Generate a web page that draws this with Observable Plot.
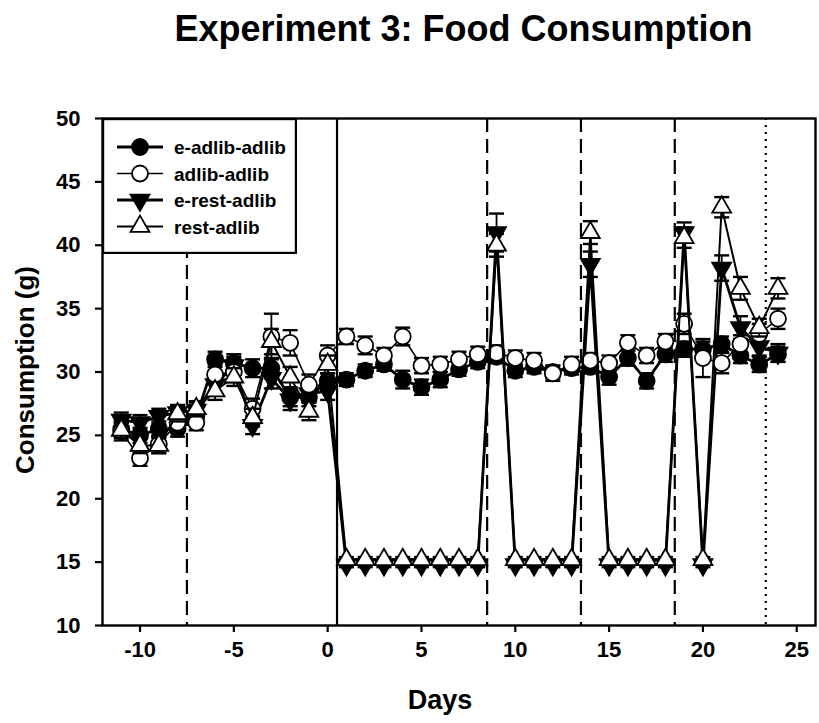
<!DOCTYPE html>
<html><head><meta charset="utf-8">
<script src="https://cdn.jsdelivr.net/npm/d3@7"></script>
<script src="https://cdn.jsdelivr.net/npm/@observablehq/plot@0.6"></script>
<style>
body{margin:0;background:#fff;font-family:"Liberation Sans",Arial,sans-serif;}
#wrap{position:relative;width:819px;height:723px;overflow:hidden;}
#title{position:absolute;left:108px;width:711px;top:11px;text-align:center;font-weight:bold;font-size:36px;line-height:36px;}
#chart{position:absolute;left:0;top:70px;}
#chart text{font-size:22px;font-weight:bold;}
#xlab{position:absolute;left:320px;width:240px;top:687px;text-align:center;font-weight:bold;font-size:27px;line-height:27px;}
#ylab{position:absolute;left:-90px;width:230px;top:357px;text-align:center;font-weight:bold;font-size:26px;line-height:26px;transform:rotate(-90deg);}
#legend{position:absolute;left:102px;top:118px;}
</style>
</head><body>
<div id="wrap">
<div id="title">Experiment 3: Food Consumption</div>
<div id="chart"></div>
<div id="xlab">Days</div>
<div id="ylab">Consumption (g)</div>
<div id="legend"></div>
</div>
<script>
const days = [-11,-10,-9,-8,-7,-6,-5,-4,-3,-2,-1,0,1,2,3,4,5,6,7,8,9,10,11,12,13,14,15,16,17,18,19,20,21,22,23,24];

const seriesNames = ["e-adlib-adlib","adlib-adlib","e-rest-adlib","rest-adlib"];

const eAdlib = [25.5,25.0,25.5,25.5,26.5,31.0,30.7,30.3,30.3,28.0,28.0,29.3,29.4,30.1,30.6,29.4,28.8,29.4,30.2,30.8,31.2,30.1,30.4,30.0,30.3,30.4,29.6,31.1,29.3,31.4,31.8,31.8,32.2,31.3,30.6,31.4];
const eAdlibSem = [0.6,0.6,0.6,0.6,0.6,0.6,0.7,0.7,0.8,0.7,0.7,0.6,0.5,0.5,0.5,0.7,0.6,0.6,0.5,0.5,0.5,0.5,0.5,0.5,0.5,0.5,0.6,0.6,0.6,0.6,0.6,0.6,0.6,0.6,0.6,0.6];

const adlib = [25.3,23.2,24.3,26.0,26.0,29.8,30.0,27.1,32.8,32.3,29.0,31.3,32.8,32.1,31.3,32.8,30.5,30.6,31.0,31.4,31.5,31.1,30.9,29.9,30.6,30.9,30.7,32.3,31.3,32.4,33.8,31.1,30.7,32.2,33.0,34.2];
const adlibSem = [0.7,0.6,0.7,0.6,0.6,0.8,0.8,0.8,1.8,1.0,0.8,0.8,0.6,0.7,0.6,0.7,0.6,0.6,0.6,0.6,0.6,0.6,0.6,0.6,0.6,0.6,0.6,0.6,0.6,0.6,0.8,1.5,0.8,0.7,0.8,0.8];

const eRest = [26.2,26.0,26.5,26.8,27.0,29.0,30.5,25.8,29.5,27.8,28.3,28.5,14.8,14.8,14.8,14.8,14.8,14.8,14.8,14.8,41.0,14.8,14.8,14.8,14.8,38.5,14.8,14.8,14.8,14.8,41.0,14.8,38.2,33.5,32.0,31.5];
const eRestSem = [0.6,0.6,0.6,0.6,0.6,0.7,0.7,0.7,0.8,0.8,0.7,0.7,0.2,0.2,0.2,0.2,0.2,0.2,0.2,0.2,1.5,0.2,0.2,0.2,0.2,1.0,0.2,0.2,0.2,0.2,0.8,0.2,1.0,0.9,0.7,0.7];

const rest = [25.4,24.2,24.2,26.7,27.1,28.5,29.6,26.4,32.4,29.6,26.9,30.6,15.2,15.2,15.2,15.2,15.2,15.2,15.2,15.2,40.0,15.2,15.2,15.2,15.2,41.0,15.2,15.2,15.2,15.2,40.6,15.2,43.0,36.6,33.5,36.6];
const restSem = [0.6,0.6,0.6,0.6,0.6,0.7,0.7,0.7,1.0,0.8,0.7,0.7,0.2,0.2,0.2,0.2,0.2,0.2,0.2,0.2,0.9,0.2,0.2,0.2,0.2,0.9,0.2,0.2,0.2,0.2,0.8,0.2,0.8,0.9,0.7,0.8];

const xTicks = [-10,-5,0,5,10,15,20,25];
const yTicks = [10,15,20,25,30,35,40,45,50];
const dashedDays = [-7.5,8.5,13.5,18.5];
const solidDays = [0.5];
const dottedDays = [23.35];

const triDown = {
  draw(context, size) {
    const y = -Math.sqrt(size / (Math.sqrt(3) * 3));
    context.moveTo(0, -y * 2);
    context.lineTo(-Math.sqrt(3) * y, y);
    context.lineTo(Math.sqrt(3) * y, y);
    context.closePath();
  }
};

const styles = {
  "e-adlib-adlib": {vals: eAdlib, sem: eAdlibSem, fill: "black", symbol: "circle", r: 8, sw: 2.8},
  "adlib-adlib": {vals: adlib, sem: adlibSem, fill: "white", symbol: "circle", r: 8, sw: 1.6},
  "e-rest-adlib": {vals: eRest, sem: eRestSem, fill: "black", symbol: triDown, r: 7, sw: 2.8},
  "rest-adlib": {vals: rest, sem: restSem, fill: "white", symbol: "triangle", r: 7, sw: 2}
};
const drawOrder = ["e-adlib-adlib", "e-rest-adlib", "adlib-adlib", "rest-adlib"];

const marks = [
  Plot.ruleX(dashedDays, {x: d => d, stroke: "black", strokeWidth: 2.2, strokeDasharray: "14,7"}),
  Plot.ruleX(solidDays, {x: d => d, stroke: "black", strokeWidth: 2.2}),
  Plot.ruleX(dottedDays, {x: d => d, stroke: "black", strokeWidth: 2.2, strokeDasharray: "2,5"})
];

for (const name of drawOrder) {
  const s = styles[name];
  const data = days.map((d, i) => ({day: d, v: s.vals[i], lo: s.vals[i] - s.sem[i], hi: s.vals[i] + s.sem[i]}));
  marks.push(Plot.line(data, {x: "day", y: "v", stroke: "black", strokeWidth: s.sw}));
  marks.push(Plot.ruleX(data, {x: "day", y1: "lo", y2: "hi", stroke: "black", strokeWidth: 1.8}));
  marks.push(Plot.link(data, {x1: d => d.day - 0.4, x2: d => d.day + 0.4, y1: "hi", y2: "hi", stroke: "black", strokeWidth: 2.4}));
  marks.push(Plot.link(data, {x1: d => d.day - 0.4, x2: d => d.day + 0.4, y1: "lo", y2: "lo", stroke: "black", strokeWidth: 2.4}));
  marks.push(Plot.dot(data, {x: "day", y: "v", symbol: s.symbol, r: s.r, fill: s.fill, stroke: "black", strokeWidth: 1.8}));
}

marks.push(Plot.axisX({ticks: xTicks, tickFormat: d => String(d), tickSize: 7, tickPadding: 9, label: null, fontSize: 22, strokeWidth: 2.2}));
marks.push(Plot.axisY({ticks: yTicks, tickFormat: d => String(d), tickSize: 7, tickPadding: 15, label: null, fontSize: 22, strokeWidth: 2.2}));
marks.push(Plot.frame({stroke: "black", strokeWidth: 2.4}));

const chart = Plot.plot({
  width: 819,
  height: 653,
  marginTop: 48,
  marginBottom: 98,
  marginLeft: 102,
  marginRight: 4,
  style: {fontFamily: "'Liberation Sans', Arial, sans-serif", fontWeight: "bold", fontSize: "22px", color: "black", background: "white"},
  x: {domain: [-12, 26]},
  y: {domain: [10, 50]},
  marks
});
document.getElementById("chart").appendChild(chart);

// Legend
const legW = 193, legH = 134;
const leg = d3.select("#legend").append("svg").attr("width", legW + 2).attr("height", legH + 2);
leg.append("rect").attr("x", 1).attr("y", 1).attr("width", legW).attr("height", legH)
  .attr("fill", "white").attr("stroke", "black").attr("stroke-width", 2.4);
seriesNames.forEach((name, i) => {
  const s = styles[name];
  const y = 29 + i * 26.5;
  const g = leg.append("g").attr("transform", `translate(0,${y})`);
  g.append("line").attr("x1", 15).attr("x2", 61).attr("y1", 0).attr("y2", 0)
    .attr("stroke", "black").attr("stroke-width", s.sw);
  const sym = typeof s.symbol === "string"
    ? (s.symbol === "circle" ? d3.symbolCircle : d3.symbolTriangle)
    : s.symbol;
  g.append("path").attr("d", d3.symbol(sym, Math.PI * s.r * s.r)())
    .attr("transform", "translate(38,0)")
    .attr("fill", s.fill).attr("stroke", "black").attr("stroke-width", 1.8);
  g.append("text").attr("x", 72).attr("y", 7).text(name)
    .attr("font-family", "'Liberation Sans', Arial, sans-serif")
    .attr("font-weight", "bold").attr("font-size", 19);
});
</script>
</body></html>
